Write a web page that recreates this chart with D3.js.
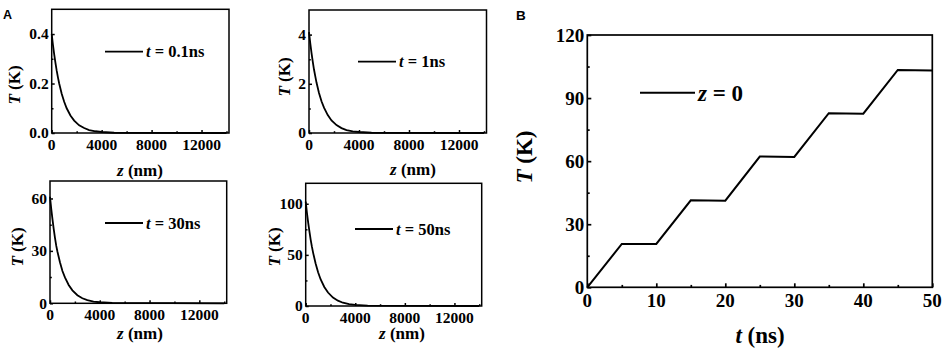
<!DOCTYPE html>
<html>
<head>
  <style>
    body { margin: 0; background: #fff; }
    svg text { font-family: "Liberation Serif", "Times New Roman", serif; font-weight: bold; fill: #000; }
    .plabel { font-family: "Liberation Sans", Arial, sans-serif; }
  </style>
</head>
<body>
  <svg id="fig" width="951" height="349"></svg>
  <script src="https://d3js.org/d3.v7.min.js"></script>
  <script>
    // depth positions (nm) shared by the four profiles
    const depth = [0, 100, 200, 300, 400, 500, 600, 800, 1000, 1200, 1500, 1800, 2200, 2600, 3000, 3500, 4000, 5000, 14000];
    // temperature profiles
    const temp01 = [0.40, 0.356, 0.318, 0.283, 0.252, 0.225, 0.20, 0.159, 0.126, 0.10, 0.071, 0.05, 0.031, 0.02, 0.012, 0.007, 0.004, 0.001, 0];
    const temp1 = [4.1, 3.65, 3.26, 2.9, 2.58, 2.31, 2.05, 1.63, 1.29, 1.03, 0.73, 0.51, 0.32, 0.2, 0.12, 0.07, 0.04, 0.01, 0];
    const temp30 = [61, 54, 48, 42.5, 37.5, 33, 29.5, 23.5, 18.5, 14.8, 10.5, 7.4, 4.6, 2.9, 1.8, 1.0, 0.6, 0.2, 0];
    const temp50 = [102, 91, 81.5, 73, 65, 58, 52, 41.5, 33, 26.2, 18.6, 13.2, 8.2, 5.2, 3.2, 1.9, 1.0, 0.3, 0];

    // panel B: surface temperature vs time
    const time = [0, 5, 10, 15, 20, 25, 30, 35, 40, 45, 50];
    const surfT = [0, 20.6, 20.6, 41.4, 41.2, 62.2, 62.0, 82.8, 82.6, 103.4, 103.1];

    const svg = d3.select("#fig");

    function drawPanel(opt) {
      const g = svg.append("g");
      const x = d3.scaleLinear().domain(opt.xDomain).range([opt.x0, opt.x1]);
      const y = d3.scaleLinear().domain(opt.yDomain).range([opt.y1, opt.y0]);

      // inward ticks
      const xAx = d3.axisTop(x).tickValues(opt.xTicks).tickSize(opt.tick).tickFormat("");
      const xMin = d3.axisTop(x).tickValues(opt.xMinor).tickSize(opt.tick * 0.6).tickFormat("");
      const yAx = d3.axisRight(y).tickValues(opt.yTicks).tickSize(opt.tick).tickFormat("");
      const yMin = d3.axisRight(y).tickValues(opt.yMinor).tickSize(opt.tick * 0.6).tickFormat("");
      [xAx, xMin].forEach(a => g.append("g").attr("transform", `translate(0,${opt.y1})`).call(a));
      [yAx, yMin].forEach(a => g.append("g").attr("transform", `translate(${opt.x0},0)`).call(a));
      g.selectAll(".domain").remove();
      g.selectAll(".tick line").attr("stroke", "#000").attr("stroke-width", opt.sw);

      // tick labels
      g.selectAll(".xl").data(opt.xTicks).enter().append("text")
        .attr("x", d => x(d)).attr("y", opt.y1 + opt.fs + 1)
        .attr("text-anchor", "middle").style("font-size", opt.fs + "px")
        .text(d => d);
      g.selectAll(".yl").data(opt.yTicks).enter().append("text")
        .attr("x", opt.x0 - 3).attr("y", d => y(d) + opt.fs * 0.35)
        .attr("text-anchor", "end").style("font-size", opt.fs + "px")
        .text(opt.yFmt);

      // curve
      g.append("path")
        .datum(opt.xs.map((v, i) => [v, opt.ys[i]]))
        .attr("fill", "none").attr("stroke", "#000").attr("stroke-width", opt.sw + 0.3)
        .attr("d", d3.line().x(d => x(d[0])).y(d => y(d[1])));

      // frame
      g.append("rect")
        .attr("x", opt.x0).attr("y", opt.y0)
        .attr("width", opt.x1 - opt.x0).attr("height", opt.y1 - opt.y0)
        .attr("fill", "none").attr("stroke", "#000").attr("stroke-width", opt.sw);

      // legend
      g.append("line")
        .attr("x1", opt.leg[0]).attr("x2", opt.leg[0] + opt.legLen)
        .attr("y1", opt.leg[1]).attr("y2", opt.leg[1])
        .attr("stroke", "#000").attr("stroke-width", opt.sw + 0.3);
      const lt = g.append("text")
        .attr("x", opt.leg[0] + opt.legLen + 3).attr("y", opt.leg[1] + opt.legFs * 0.35)
        .style("font-size", opt.legFs + "px");
      lt.append("tspan").style("font-style", "italic").text(opt.legVar);
      lt.append("tspan").text(opt.legRest);

      // axis titles
      const xt = g.append("text")
        .attr("x", opt.xTitle[0]).attr("y", opt.xTitle[1])
        .attr("text-anchor", "middle").style("font-size", opt.titleFs + "px");
      xt.append("tspan").style("font-style", "italic").text(opt.xVar);
      xt.append("tspan").text(opt.xUnit);
      const yt = g.append("text")
        .attr("transform", `translate(${opt.yTitle[0]},${opt.yTitle[1]}) rotate(-90)`)
        .attr("text-anchor", "middle").style("font-size", opt.titleFs + "px");
      yt.append("tspan").style("font-style", "italic").text("T");
      yt.append("tspan").text(" (K)");
    }

    const zTicks = [0, 4000, 8000, 12000];
    const zMinor = [2000, 6000, 10000, 14000];
    const common = {
      xs: depth, xDomain: [0, 14200], xTicks: zTicks, xMinor: zMinor,
      tick: 3, sw: 1.5, fs: 15.5, legLen: 38, legFs: 16.5, titleFs: 17,
      legVar: "t", xVar: "z", xUnit: " (nm)"
    };

    drawPanel(Object.assign({}, common, {
      ys: temp01, x0: 51.7, x1: 229, y0: 9.3, y1: 133,
      yDomain: [0, 0.5], yTicks: [0, 0.2, 0.4], yMinor: [0.1, 0.3], yFmt: d3.format(".1f"),
      leg: [105, 51.7], legRest: " = 0.1ns", xTitle: [140, 176], yTitle: [20, 85]
    }));
    drawPanel(Object.assign({}, common, {
      ys: temp1, x0: 309, x1: 486.5, y0: 10, y1: 133,
      yDomain: [0, 5], yTicks: [0, 2, 4], yMinor: [1, 3], yFmt: d => d,
      leg: [358, 61.7], legRest: " = 1ns", xTitle: [413, 175], yTitle: [290, 77]
    }));
    drawPanel(Object.assign({}, common, {
      ys: temp30, x0: 50, x1: 226.7, y0: 181, y1: 303.3,
      yDomain: [0, 70], yTicks: [0, 30, 60], yMinor: [15, 45], yFmt: d => d,
      leg: [105, 223], legRest: " = 30ns", xTitle: [140, 339], yTitle: [23, 247]
    }));
    drawPanel(Object.assign({}, common, {
      ys: temp50, x0: 305.7, x1: 481.7, y0: 183.3, y1: 306,
      yDomain: [0, 120], yTicks: [0, 50, 100], yMinor: [25, 75], yFmt: d => d,
      leg: [355, 229], legRest: " = 50ns", xTitle: [402, 339], yTitle: [280, 247]
    }));

    drawPanel({
      xs: time, ys: surfT, x0: 587.3, x1: 932.3, y0: 35, y1: 287.3,
      xDomain: [0, 50], xTicks: [0, 10, 20, 30, 40, 50], xMinor: [5, 15, 25, 35, 45],
      yDomain: [0, 120], yTicks: [0, 30, 60, 90, 120], yMinor: [15, 45, 75, 105], yFmt: d => d,
      tick: 4, sw: 1.7, fs: 19, legLen: 55, legFs: 23, titleFs: 23,
      leg: [640, 92.7], legVar: "z", legRest: " = 0",
      xVar: "t", xUnit: " (ns)", xTitle: [760, 343], yTitle: [532, 157]
    });

    // panel letters
    svg.append("text").attr("class", "plabel").attr("x", 3).attr("y", 19)
      .style("font-size", "12.5px").text("A");
    svg.append("text").attr("class", "plabel").attr("x", 516).attr("y", 19.5)
      .style("font-size", "13.5px").text("B");
  </script>
</body>
</html>
